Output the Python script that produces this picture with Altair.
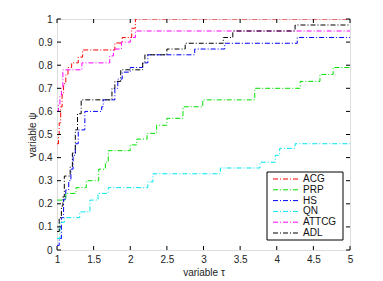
import altair as alt
import pandas as pd

# ---- data ----
acg_x = [1.00, 1.02, 1.03, 1.05, 1.07, 1.09, 1.12, 1.15, 1.20, 1.29, 1.35, 1.79, 1.89, 2.02, 2.07, 5.00]
acg_y = [0.46, 0.50, 0.55, 0.62, 0.68, 0.72, 0.76, 0.79, 0.81, 0.835, 0.866, 0.896, 0.92, 0.96, 1.00, 1.00]

prp_x = [1.00, 1.12, 1.26, 1.40, 1.57, 1.66, 1.70, 2.00, 2.09, 2.23, 2.36, 2.50, 2.72, 2.99, 3.70, 4.32, 4.59, 4.77, 5.00]
prp_y = [0.216, 0.245, 0.27, 0.30, 0.35, 0.38, 0.43, 0.455, 0.48, 0.505, 0.54, 0.57, 0.62, 0.65, 0.70, 0.73, 0.76, 0.79, 0.79]

hs_x = [1.00, 1.03, 1.06, 1.09, 1.12, 1.16, 1.19, 1.22, 1.25, 1.29, 1.38, 1.61, 1.63, 1.79, 1.83, 1.89, 2.00, 2.17, 2.24, 2.88, 3.29, 4.28, 5.00]
hs_y = [0.02, 0.05, 0.14, 0.22, 0.26, 0.30, 0.35, 0.41, 0.46, 0.52, 0.60, 0.62, 0.65, 0.70, 0.74, 0.77, 0.79, 0.81, 0.845, 0.87, 0.895, 0.92, 0.92]

qn_x = [1.00, 1.04, 1.10, 1.31, 1.45, 1.56, 1.70, 2.24, 2.31, 3.23, 3.77, 3.98, 4.04, 4.25, 5.00]
qn_y = [0.05, 0.12, 0.14, 0.165, 0.216, 0.245, 0.27, 0.295, 0.33, 0.355, 0.38, 0.41, 0.44, 0.46, 0.46]

attcg_x = [1.00, 1.02, 1.04, 1.06, 1.08, 1.34, 1.72, 1.77, 1.88, 2.00, 2.07, 5.00]
attcg_y = [0.60, 0.63, 0.67, 0.70, 0.78, 0.81, 0.84, 0.87, 0.90, 0.92, 0.948, 0.948]

adl_x = [1.00, 1.03, 1.06, 1.08, 1.10, 1.18, 1.21, 1.25, 1.28, 1.33, 1.75, 1.79, 1.87, 2.17, 2.20, 2.50, 2.75, 3.27, 3.40, 4.25, 5.00]
adl_y = [0.08, 0.14, 0.19, 0.23, 0.32, 0.36, 0.42, 0.52, 0.59, 0.65, 0.70, 0.73, 0.78, 0.81, 0.845, 0.87, 0.895, 0.92, 0.948, 0.974, 0.974]

names = ["ACG", "PRP", "HS", "QN", "ATTCG", "ADL"]
colors = ["#ff0000", "#00e000", "#0000ff", "#00e5ee", "#ff00ff", "#000000"]

x_ticks = [1, 1.5, 2, 2.5, 3, 3.5, 4, 4.5, 5]
y_ticks = [0, 0.1, 0.2, 0.3, 0.4, 0.5, 0.6, 0.7, 0.8, 0.9, 1]

series = [(acg_x, acg_y), (prp_x, prp_y), (hs_x, hs_y), (qn_x, qn_y), (attcg_x, attcg_y), (adl_x, adl_y)]
rows = []
for n, (xs_, ys_) in zip(names, series):
    for i, (a, b) in enumerate(zip(xs_, ys_)):
        rows.append({"name": n, "tau": a, "psi": b, "i": i})
df = pd.DataFrame(rows)

FONT = "Liberation Sans"
W, H = 293, 231
DASH = [5, 2, 1, 2]

xs = alt.Scale(domain=[1, 5], nice=False)
ys = alt.Scale(domain=[0, 1], nice=False)
cscale = alt.Scale(domain=names, range=colors)

axis_common = dict(format="~g", ticks=False, domain=False, grid=False,
                   labelOverlap=False, labelFlush=False,
                   labelFont=FONT, titleFont=FONT, labelFontSize=10, titleFontSize=10,
                   titleFontWeight="normal", labelColor="#222", titleColor="#222")

lines = alt.Chart(df).mark_line(
    interpolate="step-after", strokeWidth=1, strokeDash=DASH, clip=True
).encode(
    x=alt.X("tau:Q", scale=xs, title="variable τ",
            axis=alt.Axis(values=x_ticks, labelPadding=4, titlePadding=3, **axis_common)),
    y=alt.Y("psi:Q", scale=ys, title="variable ψ",
            axis=alt.Axis(values=y_ticks, labelPadding=5, titlePadding=1, **axis_common)),
    color=alt.Color("name:N", scale=cscale, sort=names, legend=None),
    order="i:Q",
)

xt = pd.DataFrame({"t": x_ticks})
yt = pd.DataFrame({"t": y_ticks})
tick_col = "black"
bx = alt.Chart(xt).mark_rule(color=tick_col, strokeWidth=1).encode(
    x=alt.X("t:Q", scale=xs, axis=None), y=alt.value(H), y2=alt.value(H - 4))
tx = alt.Chart(xt).mark_rule(color=tick_col, strokeWidth=1).encode(
    x=alt.X("t:Q", scale=xs, axis=None), y=alt.value(0), y2=alt.value(4))
ly = alt.Chart(yt).mark_rule(color=tick_col, strokeWidth=1).encode(
    y=alt.Y("t:Q", scale=ys, axis=None), x=alt.value(0), x2=alt.value(4))
ry = alt.Chart(yt).mark_rule(color=tick_col, strokeWidth=1).encode(
    y=alt.Y("t:Q", scale=ys, axis=None), x=alt.value(W), x2=alt.value(W - 4))

plot = alt.layer(lines, bx, tx, ly, ry).resolve_axis(x="independent", y="independent")

# ---- legend drawn as marks ----
leg_df = pd.DataFrame({"name": names, "row": list(range(len(names)))})
row_scale = alt.Scale(domain=[0, 5], range=[160, 214])
box = alt.Chart(pd.DataFrame({"a": [0]})).mark_rect(
    fill="white", stroke="black", strokeWidth=1
).encode(x=alt.value(210), x2=alt.value(286), y=alt.value(153), y2=alt.value(221))
leg_lines = alt.Chart(leg_df).mark_rule(strokeWidth=1, strokeDash=DASH).encode(
    y=alt.Y("row:Q", scale=row_scale, axis=None),
    x=alt.value(216), x2=alt.value(243),
    color=alt.Color("name:N", scale=cscale, legend=None),
)
leg_text = alt.Chart(leg_df).mark_text(
    align="left", baseline="middle", font=FONT, fontSize=10, color="#111"
).encode(
    y=alt.Y("row:Q", scale=row_scale, axis=None),
    x=alt.value(246),
    text="name:N",
)
legend = alt.layer(box, leg_lines, leg_text)

chart = alt.layer(plot, legend).resolve_scale(y="independent").properties(
    width=W, height=H, autosize=alt.AutoSizeParams(type="none"),
    padding={"left": 49, "top": 11, "right": 25, "bottom": 35},
).configure_view(stroke="black", strokeWidth=1).configure(background="white")

chart.save("out.html", embed_options={"renderer": "svg", "actions": False})
